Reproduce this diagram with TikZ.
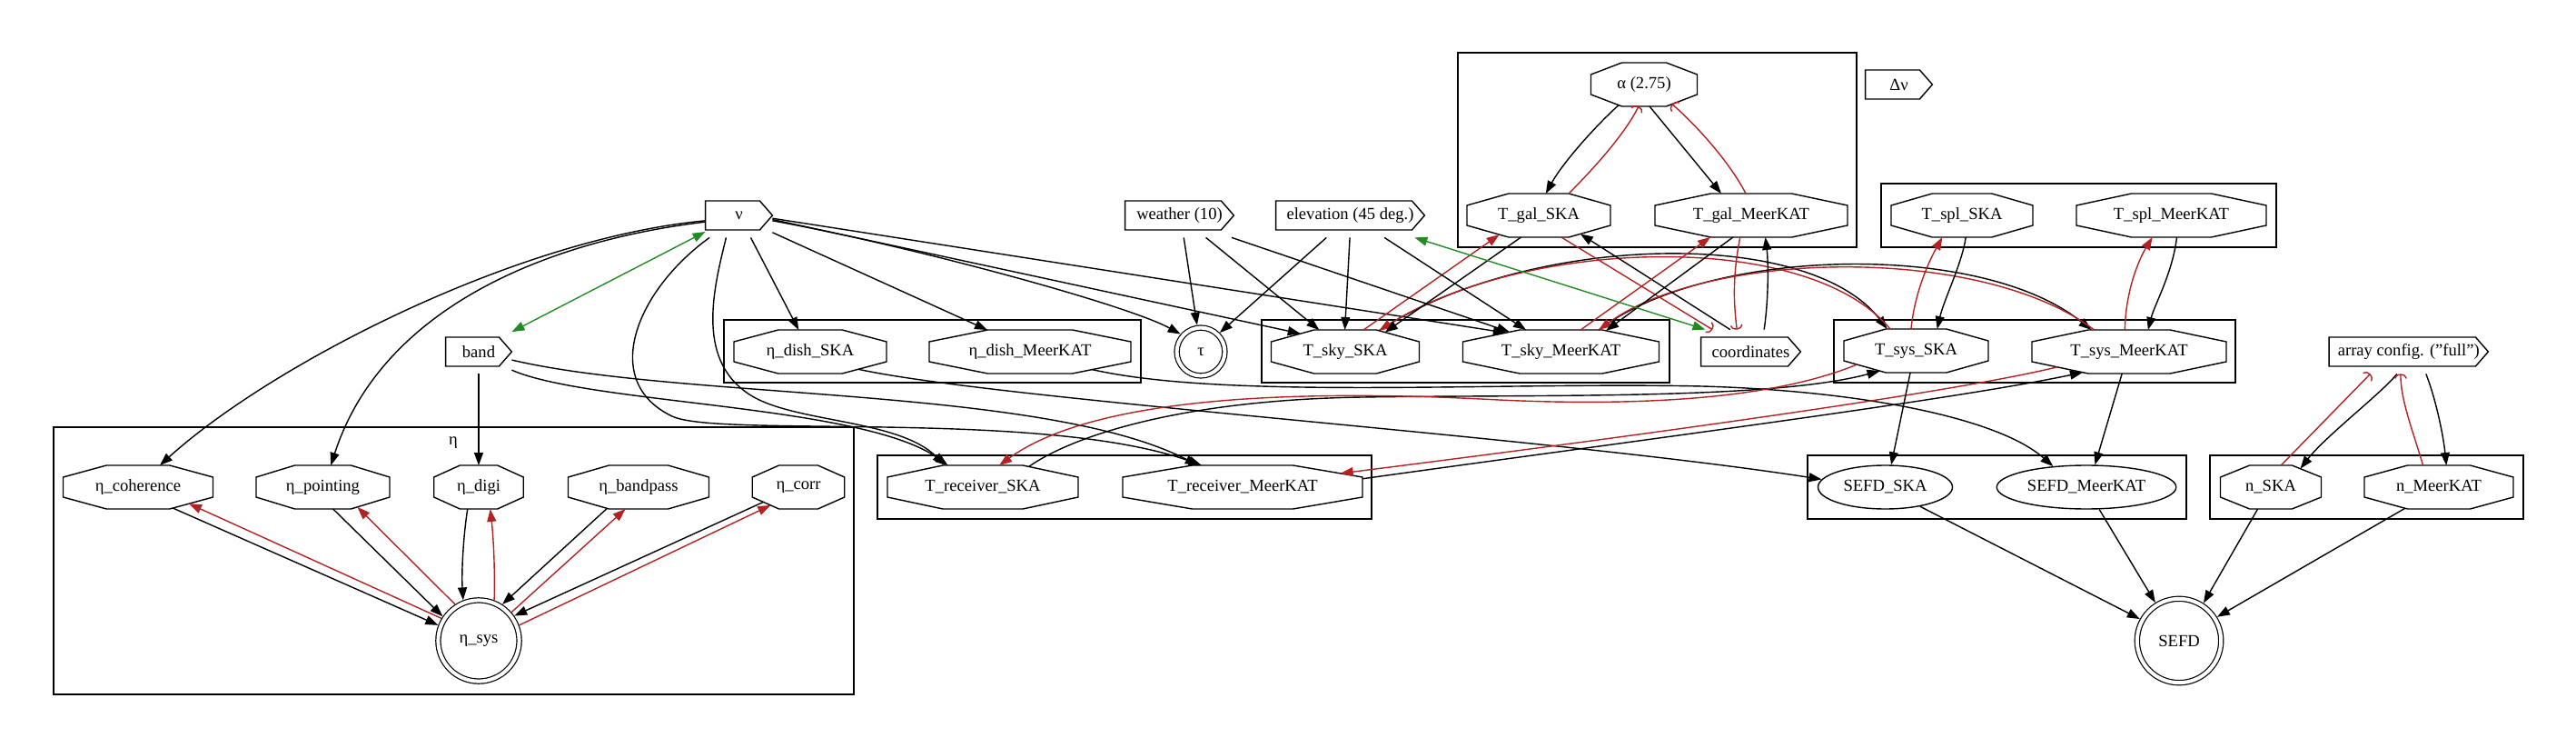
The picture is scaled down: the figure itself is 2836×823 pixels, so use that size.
\documentclass[tikz,border=0pt]{standalone}
\usepackage{fontspec}
\setmainfont{Liberation Serif}
\usetikzlibrary{shapes.geometric,arrows.meta,calc}
\definecolor{myred}{HTML}{B22222}
\definecolor{mygreen}{HTML}{228B22}
\newcommand\fs{\fontsize{9.3}{11}\selectfont}
\newdimen\octL \newdimen\octR \newdimen\octB \newdimen\octT
\newdimen\octLi \newdimen\octRi \newdimen\octBi \newdimen\octTi
\makeatletter
\pgfkeys{/pgf/octo cutx/.initial=10pt, /pgf/octo cuty/.initial=6.5pt}
\pgfdeclareshape{octo}{%
  \inheritsavedanchors[from={rectangle}]%
  \inheritanchor[from={rectangle}]{center}%
  \inheritanchor[from={rectangle}]{north}%
  \inheritanchor[from={rectangle}]{south}%
  \inheritanchor[from={rectangle}]{east}%
  \inheritanchor[from={rectangle}]{west}%
  \inheritanchor[from={rectangle}]{text}%
  \inheritanchor[from={rectangle}]{base}%
  \inheritanchor[from={rectangle}]{mid}%
  \saveddimen{\octcx}{\pgfmathsetlength\pgf@x{\pgfkeysvalueof{/pgf/octo cutx}}}%
  \saveddimen{\octcy}{\pgfmathsetlength\pgf@x{\pgfkeysvalueof{/pgf/octo cuty}}}%
  \backgroundpath{%
    \southwest \octL=\pgf@x \octB=\pgf@y
    \northeast \octR=\pgf@x \octT=\pgf@y
    \octLi=\octL \advance\octLi by \octcx
    \octRi=\octR \advance\octRi by -\octcx
    \octBi=\octB \advance\octBi by \octcy
    \octTi=\octT \advance\octTi by -\octcy
    \pgfpathmoveto{\pgfqpoint{\octL}{\octBi}}%
    \pgfpathlineto{\pgfqpoint{\octLi}{\octB}}%
    \pgfpathlineto{\pgfqpoint{\octRi}{\octB}}%
    \pgfpathlineto{\pgfqpoint{\octR}{\octBi}}%
    \pgfpathlineto{\pgfqpoint{\octR}{\octTi}}%
    \pgfpathlineto{\pgfqpoint{\octRi}{\octT}}%
    \pgfpathlineto{\pgfqpoint{\octLi}{\octT}}%
    \pgfpathlineto{\pgfqpoint{\octL}{\octTi}}%
    \pgfpathclose
  }%
  \anchorborder{%
    \edef\octdx{\pgf@sys@tonumber\pgf@x}%
    \edef\octdy{\pgf@sys@tonumber\pgf@y}%
    \northeast
    \edef\octxb{\pgf@sys@tonumber\pgf@x}\edef\octyb{\pgf@sys@tonumber\pgf@y}%
    \southwest
    \edef\octxa{\pgf@sys@tonumber\pgf@x}\edef\octya{\pgf@sys@tonumber\pgf@y}%
    \pgfmathsetmacro\octcxn{\octcx}%
    \pgfmathsetmacro\octcyn{\octcy}%
    \pgfmathsetmacro\octW{(\octxb-\octxa)/2}%
    \pgfmathsetmacro\octH{(\octyb-\octya)/2}%
    \pgfmathsetmacro\octlen{max(veclen(\octdx,\octdy),0.0001)}%
    \pgfmathsetmacro\octux{\octdx/\octlen}%
    \pgfmathsetmacro\octuy{\octdy/\octlen}%
    \pgfmathsetmacro\octa{abs(\octux)}%
    \pgfmathsetmacro\octb{abs(\octuy)}%
    \pgfmathsetmacro\octtA{\octW/max(\octa,0.02)}%
    \pgfmathsetmacro\octtB{\octH/max(\octb,0.02)}%
    \pgfmathsetmacro\octtC{(\octcyn*\octW+\octcxn*(\octH-\octcyn))/(\octcyn*\octa+\octcxn*\octb+0.0001)}%
    \pgfmathsetmacro\octt{min(\octtA,\octtB,\octtC)}%
    \pgfmathsetlength\pgf@x{(\octxa+\octxb)/2+\octt*\octux}%
    \pgfmathsetlength\pgf@y{(\octya+\octyb)/2+\octt*\octuy}%
  }%
}
\makeatother
\newcommand\cdsnode[5]{%
  \node[cdsbox, minimum width=#4] (#1) at (#2,#3) {#5};
  \draw[cdsline] ($(#1.west)+(0,-16)$) -- ($(#1.east)+(-14,-16)$) -- (#1.east) -- ($(#1.east)+(-14,16)$) -- ($(#1.west)+(0,16)$) -- cycle;
}
\begin{document}
\begin{tikzpicture}[x=0.5pt, y=-0.5pt,
  every node/.style={font=\fs},
  oct/.style 2 args={shape=octo, draw, line width=0.7pt, minimum height=24pt, inner sep=0pt, outer sep=0pt, minimum width=#1, octo cutx=#2, octo cuty=6.5pt},
  cdsbox/.style={rectangle, minimum height=24pt, inner sep=0pt},
  cdsline/.style={draw, line width=0.7pt},
  ell/.style={ellipse, draw, line width=0.7pt, minimum height=24pt, inner sep=0pt},
  dbl/.style={circle, draw, line width=0.6pt, double, double distance=2pt, inner sep=0pt, outer sep=1.6pt},
  cluster/.style={draw, line width=0.7pt},
  e/.style={arrows={-Triangle[length=7pt,width=5pt]}, line width=0.7pt},
  r/.style={e, draw=myred},
  rc/.style={arrows={-Arc Barb[length=2.5pt,width=7pt]}, line width=0.7pt, draw=myred},
  gb/.style={arrows={Triangle[length=7pt,width=5pt]-Triangle[length=7pt,width=5pt]}, line width=0.7pt, draw=mygreen}
]
\useasboundingbox (0,0) rectangle (2836,823);

% clusters
\draw[cluster] (59,470) rectangle (940,764);
\node (etalabel) at (499,487) {η};
\draw[cluster] (797,352) rectangle (1256,421);
\draw[cluster] (966,501) rectangle (1510,571);
\draw[cluster] (1389,352) rectangle (1838,421);
\draw[cluster] (1605,58) rectangle (2044,272);
\draw[cluster] (2071,202) rectangle (2506,272);
\draw[cluster] (2019,352) rectangle (2461,421);
\draw[cluster] (1990,501) rectangle (2407,571);
\draw[cluster] (2433,501) rectangle (2778,571);

% cds nodes
\cdsnode{nu}{813.5}{237}{36.5pt}{ν}
\cdsnode{band}{527}{387}{36pt}{band}
\cdsnode{weather}{1298.5}{237}{59.5pt}{weather (10)}
\cdsnode{elev}{1486.5}{237}{81.5pt}{elevation (45 deg.)}
\cdsnode{coord}{1927.5}{387}{54.5pt}{coordinates}
\cdsnode{dnu}{2090.5}{93}{36.5pt}{Δν}
\cdsnode{array}{2651.75}{387}{87.25pt}{array config. ("full")}

% octagons
\node[oct={82.5pt}{23.9pt}] (coh) at (152,536) {η\_coherence};
\node[oct={73.5pt}{21.3pt}] (poi) at (355.5,536) {η\_pointing};
\node[oct={49.25pt}{14.3pt}] (digi) at (527,536) {η\_digi};
\node[oct={77.5pt}{22.5pt}] (bp) at (703,536) {η\_bandpass};
\node[oct={50.75pt}{14.7pt}] (corr) at (879,536) {η\_corr};
\node[oct={84pt}{24.4pt}] (dishS) at (892,387) {η\_dish\_SKA};
\node[oct={111pt}{32.2pt}] (dishM) at (1134,387) {η\_dish\_MeerKAT};
\node[oct={105pt}{30.5pt}] (recS) at (1082,536) {T\_receiver\_SKA};
\node[oct={132pt}{38.3pt}] (recM) at (1368,536) {T\_receiver\_MeerKAT};
\node[oct={81.5pt}{23.6pt}] (skyS) at (1481,387) {T\_sky\_SKA};
\node[oct={108pt}{31.3pt}] (skyM) at (1718.5,387) {T\_sky\_MeerKAT};
\node[oct={58.5pt}{17pt}] (alpha) at (1810,93) {α (2.75)};
\node[oct={79pt}{22.9pt}] (galS) at (1694,237) {T\_gal\_SKA};
\node[oct={106pt}{30.7pt}] (galM) at (1928,237) {T\_gal\_MeerKAT};
\node[oct={78pt}{22.6pt}] (splS) at (2160,237) {T\_spl\_SKA};
\node[oct={104.5pt}{30.3pt}] (splM) at (2390.5,237) {T\_spl\_MeerKAT};
\node[oct={79.5pt}{23.1pt}] (sysS) at (2109.5,386) {T\_sys\_SKA};
\node[oct={107pt}{31pt}] (sysM) at (2344,387) {T\_sys\_MeerKAT};
\node[oct={55.5pt}{16.1pt}] (nS) at (2500,536) {n\_SKA};
\node[oct={82pt}{23.8pt}] (nM) at (2685,536) {n\_MeerKAT};

% ellipses
\node[ell, minimum width=74pt] (sefdS) at (2075.5,536) {SEFD\_SKA};
\node[ell, minimum width=98.75pt] (sefdM) at (2297,536) {SEFD\_MeerKAT};

% double circles
\node[dbl, minimum size=26.4pt] (tau) at (1322,387) {τ};
\node[dbl, minimum size=44.6pt] (etasys) at (527,705) {η\_sys};
\node[dbl, minimum size=46.2pt] (SEFD) at (2399,705) {SEFD};

% edges from nu
\draw[e] (nu.189) .. controls (570,262) and (300,400) .. (coh.45);
\draw[e] (nu.191) .. controls (600,265) and (420,340) .. (poi.70);
\draw[e] (nu.-62) -- (dishS.118);
\draw[e] (nu.-27) -- (dishM.153);
\draw[e] (nu.-9) .. controls (1000,270) and (1240,335) .. (tau.139);
\draw[e] (nu.-7) -- (skyS.158);
\draw[e] (nu.-5) -- (skyM.161);
\draw[e] (nu.-120) .. controls (785,320) and (765,400) .. (830,437) .. controls (880,465) and (990,462) .. (recS.150);
\draw[e] (nu.-143) .. controls (700,320) and (660,420) .. (740,458) .. controls (790,482) and (1150,450) .. (recM.152);
\draw[gb] (nu.-154) -- (band.31);

% band
\draw[e] (band.-29) .. controls (650,445) and (950,445) .. (recS.148);
\draw[e] (band.-14) .. controls (750,440) and (1150,425) .. (recM.154);
\draw[e] (band) -- (digi);

% dish -> SEFD
\draw[e] (dishS.-20) .. controls (1100,440) and (1700,480) .. (sefdS.173);
\draw[e] (dishM.-16) .. controls (1350,440) and (1650,420) .. (1874,425) .. controls (2050,430) and (2200,460) .. (sefdM.148);

% receiver <-> sys
\draw[e] (recS.24) .. controls (1180,480) and (1300,440) .. (1500,437) .. controls (1700,434) and (1950,440) .. (sysS.-151);
\draw[r] (sysS.-167) .. controls (1950,440) and (1800,447) .. (1650,440) .. controls (1500,432) and (1220,425) .. (recS.53);
\draw[e] (recM.4) .. controls (1800,485) and (2150,440) .. (sysM.-156);
\draw[r] (sysM.-168) .. controls (2150,432) and (1800,480) .. (recM.8);

% sky <-> sys arcs
\draw[e] (skyS.32) .. controls (1680,258) and (1990,248) .. (sysS.143);
\draw[r] (sysS.140) .. controls (1990,252) and (1680,262) .. (skyS.32);
\draw[e] (skyM.30) .. controls (1880,272) and (2180,264) .. (sysM.150);
\draw[r] (sysM.148) .. controls (2180,268) and (1880,276) .. (skyM.30);

% gal
\draw[e] (galS.-129) -- (skyS.26);
\draw[r] (skyS.50) -- (galS.-154);
\draw[rc] (galS.-44) -- (coord.150);
\draw[e] (coord.133) -- (galS.-24);
\draw[e] (galM.-130) -- (skyM.25);
\draw[r] (skyM.48) -- (galM.-152);
\draw[rc] (galM.-117) .. controls (1908,300) and (1908,330) .. (coord.122);
\draw[e] (coord.59) .. controls (1947,330) and (1947,290) .. (galM.-57);
\draw[e] (alpha.-141) .. controls (1755,140) and (1720,180) .. (galS.72);
\draw[rc] (galS.36) .. controls (1760,180) and (1790,145) .. (alpha.-104);
\draw[e] (alpha.-76) -- (galM.144);
\draw[rc] (galM.104) .. controls (1905,180) and (1870,140) .. (alpha.-35);

% weather / elevation
\draw[e] (weather.-79) -- (tau.98);
\draw[e] (weather.-40) -- (skyS.140);
\draw[e] (weather.-23) -- (skyM.159);
\draw[e] (elev.-137) -- (tau.45);
\draw[e] (elev.-91) -- (skyS.91);
\draw[e] (elev.-33) -- (skyM.148);
\draw[gb] (elev.-19) -- (coord.154);

% spl <-> sys
\draw[e] (splS.-80) .. controls (2160,290) and (2140,330) .. (sysS.46);
\draw[r] (sysS.103) .. controls (2108,320) and (2125,285) .. (splS.-132);
\draw[e] (splM.-76) .. controls (2392,300) and (2372,335) .. (sysM.49);
\draw[r] (sysM.101) .. controls (2340,320) and (2355,285) .. (splM.-131);

% sys -> sefd
\draw[e] (sysS.-105) -- (sefdS.75);
\draw[e] (sysM.-108) -- (sefdM.69);

% -> SEFD
\draw[e] (sefdS.-29) -- (SEFD.151);
\draw[e] (sefdM.-60) -- (SEFD.122);
\draw[e] (nS.-121) -- (SEFD.57);
\draw[e] (nM.-148) -- (SEFD.32);

% array config
\draw[e] (array.-118) .. controls (2625,430) and (2560,480) .. (nS.32);
\draw[rc] (nS.65) -- (array.-150);
\draw[e] (array.-52) .. controls (2682,440) and (2690,480) .. (nM.71);
\draw[rc] (nM.126) .. controls (2655,470) and (2643,440) .. (array.-110);

% eta cluster
\draw[e] (coh.-31) -- (etasys.159);
\draw[r] (etasys.149) -- (coh.-18);
\draw[e] (poi.-65) -- (etasys.146);
\draw[r] (etasys.123) -- (poi.-30);
\draw[e] (digi.-117) .. controls (510,590) and (508,630) .. (etasys.111);
\draw[r] (etasys.69) .. controls (545,620) and (543,590) .. (digi.-62);
\draw[e] (bp.-146) -- (etasys.57);
\draw[r] (etasys.41) -- (bp.-121);
\draw[e] (corr.-157) -- (etasys.35);
\draw[r] (etasys.21) -- (corr.-147);
\end{tikzpicture}
\end{document}
